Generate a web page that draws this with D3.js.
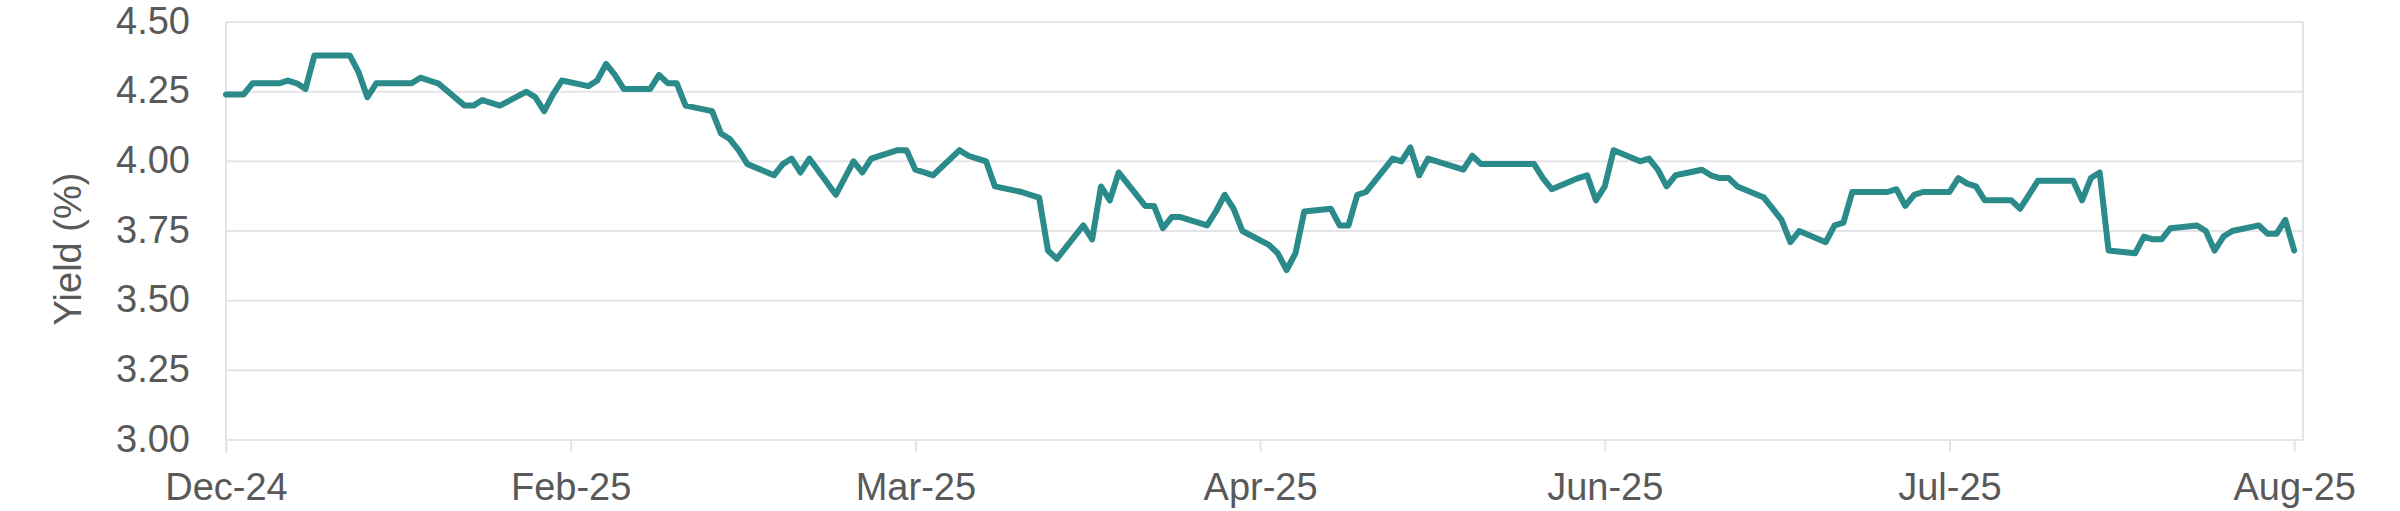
<!DOCTYPE html>
<html>
<head>
<meta charset="utf-8">
<script src="https://cdn.jsdelivr.net/npm/d3@7/dist/d3.min.js"></script>
<style>
  html, body { margin: 0; padding: 0; background: #ffffff; }
  svg { display: block; }
  text { font-family: "Liberation Sans", Arial, sans-serif; }
</style>
</head>
<body>
<svg id="chart" width="2400" height="511"></svg>
<script>
// ---------- DATA (business days) ----------
const dec24Days = [31];
const dec24Vals = [4.24];
const jan25Days = [1,2,3,6,7,8,9,10,13,14,15,16,17,20,21,22,23,24,27,28,29,30,31];
const jan25Vals = [4.24,4.24,4.28,4.28,4.29,4.28,4.26,4.38,4.38,4.38,4.32,4.23,4.28,4.28,4.28,4.30,4.29,4.28,4.20,4.20,4.22,4.21,4.20];
const feb25Days = [3,4,5,6,7,10,11,12,13,14,17,18,19,20,21,24,25,26,27,28];
const feb25Vals = [4.25,4.23,4.18,4.24,4.29,4.27,4.29,4.35,4.31,4.26,4.26,4.31,4.28,4.28,4.20,4.18,4.10,4.08,4.04,3.99];
const mar25Days = [3,4,5,6,7,10,11,12,13,14,17,18,19,20,21,24,25,26,27,28,31];
const mar25Vals = [3.95,3.99,4.01,3.96,4.01,3.88,3.94,4.00,3.96,4.01,4.04,4.04,3.97,3.96,3.95,4.04,4.02,4.01,4.00,3.91,3.89];
const apr25Days = [1,2,3,4,7,8,9,10,11,14,15,16,17,18,21,22,23,24,25,28,29,30];
const apr25Vals = [3.88,3.87,3.68,3.65,3.77,3.72,3.91,3.86,3.96,3.84,3.84,3.76,3.80,3.80,3.77,3.82,3.88,3.83,3.75,3.70,3.67,3.61];
const may25Days = [1,2,5,6,7,8,9,12,13,14,15,16,19,20,21,22,23,26,27,28,29,30];
const may25Vals = [3.67,3.82,3.83,3.77,3.77,3.88,3.89,4.01,4.00,4.05,3.95,4.01,3.98,3.97,4.02,3.99,3.99,3.99,3.99,3.99,3.94,3.90];
const jun25Days = [2,3,4,5,6,9,10,11,12,13,16,17,18,19,20,23,24,25,26,27,30];
const jun25Vals = [3.94,3.95,3.86,3.91,4.04,4.00,4.01,3.97,3.91,3.95,3.97,3.95,3.94,3.94,3.91,3.87,3.83,3.79,3.71,3.75,3.71];
const jul25Days = [1,2,3,4,7,8,9,10,11,14,15,16,17,18,21,22,23,24,25,28,29,30,31];
const jul25Vals = [3.77,3.78,3.89,3.89,3.89,3.90,3.84,3.88,3.89,3.89,3.94,3.92,3.91,3.86,3.86,3.83,3.88,3.93,3.93,3.93,3.86,3.94,3.96];
const aug25Days = [1,4,5,6,7,8,11,12,13,14,15,18,19,20,21,22];
const aug25Vals = [3.68,3.67,3.73,3.72,3.72,3.76,3.77,3.75,3.68,3.73,3.75,3.77,3.74,3.74,3.79,3.68];

const tickDates  = ["2024-12-31","2025-02-08","2025-03-19","2025-04-27","2025-06-05","2025-07-14","2025-08-22"];
const tickLabels = ["Dec-24","Feb-25","Mar-25","Apr-25","Jun-25","Jul-25","Aug-25"];
const yTicks = [3.00, 3.25, 3.50, 3.75, 4.00, 4.25, 4.50];
const yTitle = "Yield (%)";
const axisStart = "2024-12-31", axisEnd = "2025-08-23";

// ---------- BUILD SERIES ----------
const monthParts = [
  ["2024-12", dec24Days, dec24Vals], ["2025-01", jan25Days, jan25Vals], ["2025-02", feb25Days, feb25Vals],
  ["2025-03", mar25Days, mar25Vals], ["2025-04", apr25Days, apr25Vals], ["2025-05", may25Days, may25Vals],
  ["2025-06", jun25Days, jun25Vals], ["2025-07", jul25Days, jul25Vals], ["2025-08", aug25Days, aug25Vals]
];
const parse = d3.utcParse("%Y-%m-%d");
const series = [];
monthParts.forEach(([ym, days, vals]) => {
  days.forEach((d, i) => series.push({ date: parse(ym + "-" + String(d).padStart(2, "0")), value: vals[i] }));
});

// ---------- LAYOUT ----------
const L = 226, R = 2303, T = 22, B = 440;
const gridColor = "#E4E4E9";
const textColor = "#595959";
const lineColor = "#2A8B8A";

const svg = d3.select("#chart");
const x = d3.scaleUtc().domain([parse(axisStart), parse(axisEnd)]).range([L, R]);
const y = d3.scaleLinear().domain([3.0, 4.5]).range([B, T]);

// gridlines
svg.append("g").selectAll("line").data(yTicks).join("line")
  .attr("x1", L).attr("x2", R)
  .attr("y1", d => y(d)).attr("y2", d => y(d))
  .attr("stroke", gridColor).attr("stroke-width", 2);

// plot frame verticals
svg.append("line").attr("x1", L).attr("x2", L).attr("y1", T).attr("y2", B + 13)
  .attr("stroke", gridColor).attr("stroke-width", 2);
svg.append("line").attr("x1", R).attr("x2", R).attr("y1", T).attr("y2", B)
  .attr("stroke", gridColor).attr("stroke-width", 2);

// x axis ticks and labels
const xAxis = d3.axisBottom(x)
  .tickValues(tickDates.map(parse))
  .tickFormat((d, i) => tickLabels[i])
  .tickSize(12).tickSizeOuter(0).tickPadding(0);
const gx = svg.append("g").attr("transform", `translate(0,${B})`).call(xAxis);
gx.select(".domain").remove();
gx.selectAll(".tick line").attr("stroke", gridColor).attr("stroke-width", 2);
gx.selectAll(".tick text")
  .attr("y", 60).attr("dy", null)
  .attr("fill", textColor).style("font-size", "38px")
  .style("font-family", "'Liberation Sans', Arial, sans-serif");

// y axis labels
const yAxis = d3.axisLeft(y).tickValues(yTicks).tickFormat(d3.format(".2f")).tickSize(0).tickPadding(0);
const gy = svg.append("g").attr("transform", `translate(190,0)`).call(yAxis);
gy.select(".domain").remove();
gy.selectAll(".tick text")
  .attr("x", 0).attr("dy", "11px").attr("dominant-baseline", "auto")
  .attr("fill", textColor).style("font-size", "38px")
  .style("font-family", "'Liberation Sans', Arial, sans-serif");

// y title
svg.append("text")
  .attr("transform", "translate(81,249) rotate(-90)")
  .attr("text-anchor", "middle")
  .attr("fill", textColor)
  .style("font-size", "38px")
  .text(yTitle);

// line
const line = d3.line().x(d => x(d.date)).y(d => y(d.value));
svg.append("path").datum(series)
  .attr("d", line)
  .attr("fill", "none")
  .attr("stroke", lineColor)
  .attr("stroke-width", 6)
  .attr("stroke-linejoin", "round")
  .attr("stroke-linecap", "round");
</script>
</body>
</html>
